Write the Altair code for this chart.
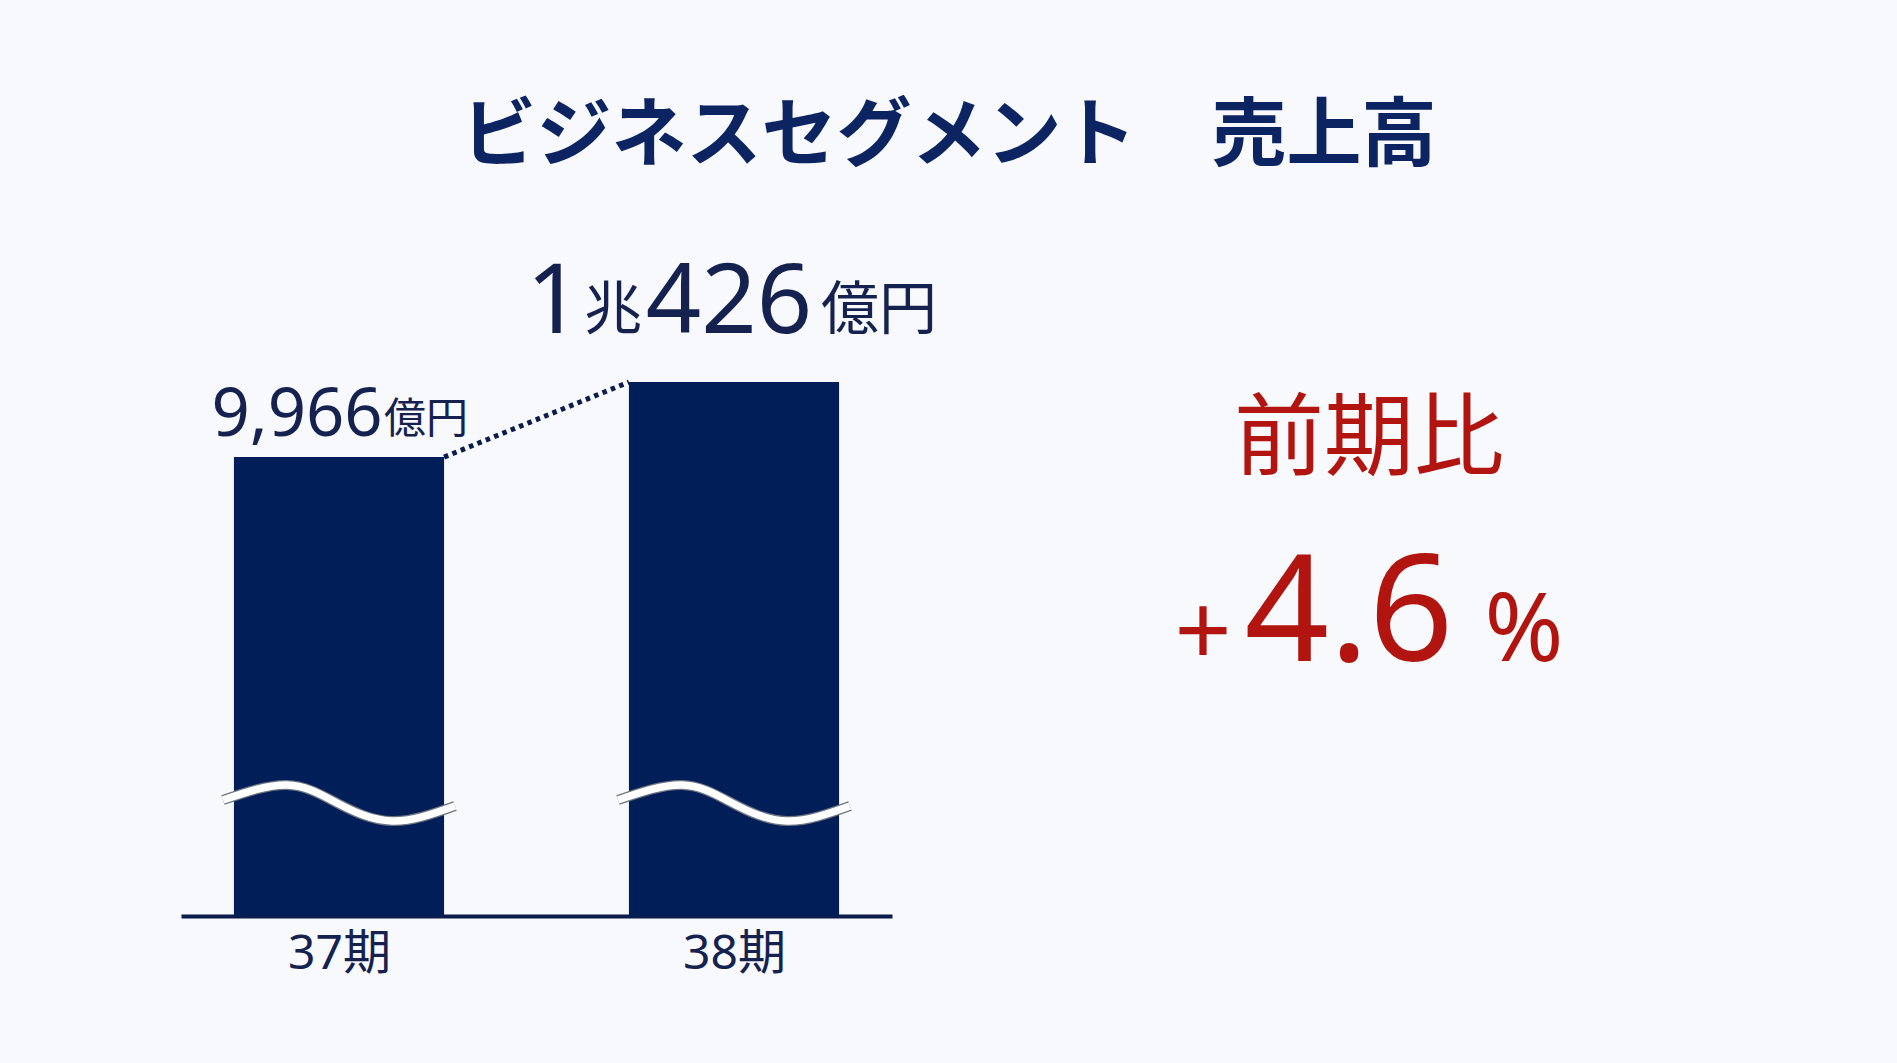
import altair as alt
import pandas as pd

# ---- data -------------------------------------------------------------
periods = ["37期", "38期"]
sales = [9966, 10426]          # 売上高（億円）
title_text = "ビジネスセグメント　売上高"
yoy_caption = "前期比"

# ---- style ------------------------------------------------------------
BAR = "#011E58"
AXIS = "#0A1B4C"
TEXT = "#15224F"
TITLE = "#0D2462"
RED = "#B2140F"
BG = "#F7F9FC"
LATIN = "Noto Sans"
CJK = "Noto Sans CJK JP"

W, H = 711, 716
PAD = {"left": 181, "top": 200, "right": 1005, "bottom": 147}

# broken value axis: the bars rise from a hidden floor well above zero
Y_MIN, Y_MAX = 7151, 11543
HALF = 0.266                    # half bar width in category units
X_DOM = [-0.4, 1.4]

xs = alt.Scale(domain=X_DOM, nice=False, zero=False)
ys = alt.Scale(domain=[Y_MIN, Y_MAX], nice=False, zero=False)

pos = list(range(len(periods)))
bars_df = pd.DataFrame({"pos": pos, "period": periods, "sales": sales})
bars_df["x0"] = bars_df["pos"] - HALF
bars_df["x1"] = bars_df["pos"] + HALF
bars_df["base"] = Y_MIN

label_expr = "[" + ",".join(f"'{p}'" for p in periods) + "][datum.value]"
x_axis = alt.Axis(
    values=pos, labelExpr=label_expr, title=None, ticks=False, grid=False,
    domainColor=AXIS, domainWidth=4, labelFont=f"{LATIN}, {CJK}",
    labelFontSize=48, labelColor=TEXT, labelPadding=14, labelAngle=0,
)

bars = alt.Chart(bars_df).mark_bar(color=BAR).encode(
    x=alt.X("x0:Q", scale=xs, axis=x_axis),
    x2="x1:Q",
    y=alt.Y("sales:Q", scale=ys, axis=None),
    y2="base:Q",
)

# dotted connector between the two bar tops
conn_df = pd.DataFrame({
    "x": [pos[0] + HALF, pos[1] - HALF],
    "y": [sales[0], sales[1]],
})
connector = alt.Chart(conn_df).mark_line(
    color=AXIS, strokeWidth=5, strokeDash=[4.5, 4.5]
).encode(x=alt.X("x:Q", scale=xs), y=alt.Y("y:Q", scale=ys))

# wavy break symbol drawn across each bar
PX_X = (X_DOM[1] - X_DOM[0]) / W
PX_Y = (Y_MAX - Y_MIN) / H
BREAK_LEVEL = Y_MIN + 113 * PX_Y
wave_shape = [(-116, 3), (-52, 18), (-2, 0), (53, -18), (116, -3)]
wave_rows = []
for p, name in zip(pos, periods):
    for i, (dx, dy) in enumerate(wave_shape):
        wave_rows.append({"period": name, "i": i,
                          "x": p + dx * PX_X, "y": BREAK_LEVEL + dy * PX_Y})
wave_df = pd.DataFrame(wave_rows)
wave_base = alt.Chart(wave_df).encode(
    x=alt.X("x:Q", scale=xs), y=alt.Y("y:Q", scale=ys),
    detail="period:N", order="i:Q",
)
wave_edge = wave_base.mark_line(color="#6E7480", strokeWidth=10,
                                interpolate="natural", strokeCap="butt")
wave_core = wave_base.mark_line(color="#FFFFFF", strokeWidth=7.5,
                                interpolate="natural", strokeCap="butt")


# value labels above the bars, built from the same sales figures
def label_parts(v):
    if v >= 10000:
        return [(str(v // 10000), "num"), ("兆", "unit"),
                (f"{v % 10000:,}", "num"), ("億円", "unit")]
    return [(f"{v:,}", "num"), ("億円", "unit")]


label_layout = {
    0: [dict(size=67, dx=-42, dy=-21), dict(size=42, dx=87, dy=-24)],
    1: [dict(size=97, dx=-180, dy=-49), dict(size=58, dx=-121, dy=-53),
        dict(size=97, dx=-5, dy=-49), dict(size=58, dx=145, dy=-53)],
}

label_layers = []
for p, v in zip(pos, sales):
    for (txt, kind), lay in zip(label_parts(v), label_layout[p]):
        df = pd.DataFrame({"pos": [p], "sales": [v], "t": [txt]})
        label_layers.append(
            alt.Chart(df).mark_text(
                font=LATIN if kind == "num" else CJK, fontSize=lay["size"],
                dx=lay["dx"], dy=lay["dy"], align="center",
                baseline="alphabetic", color=TEXT,
            ).encode(x=alt.X("pos:Q", scale=xs), y=alt.Y("sales:Q", scale=ys),
                     text="t:N")
        )

# year-on-year change
yoy = round((sales[1] / sales[0] - 1) * 100, 1)
sign = "+" if yoy >= 0 else "−"


def free_text(txt, x, y, size, font, color, weight="normal"):
    return alt.Chart(pd.DataFrame({"t": [txt]})).mark_text(
        font=font, fontSize=size, fontWeight=weight, align="center",
        baseline="alphabetic", color=color,
    ).encode(x=alt.value(x), y=alt.value(y), text="t:N")


title = free_text(title_text, 768, -40, 75, CJK, TITLE, "bold")
yoy_head = free_text(yoy_caption, 1188, 268, 90, CJK, RED)
yoy_sign = free_text(sign, 1022, 466, 100, LATIN, RED)
yoy_num = free_text(f"{abs(yoy):.1f}", 1168, 461, 148, LATIN, RED)
yoy_pct = free_text("%", 1343, 461, 95, LATIN, RED)

chart = alt.layer(
    bars, connector, wave_edge, wave_core, *label_layers,
    title, yoy_head, yoy_sign, yoy_num, yoy_pct,
).properties(
    width=W, height=H, padding=PAD,
    autosize=alt.AutoSizeParams(type="none"),
    background=BG,
).configure_view(stroke=None)

chart.save("out.html", embed_options={"renderer": "svg", "actions": False})
